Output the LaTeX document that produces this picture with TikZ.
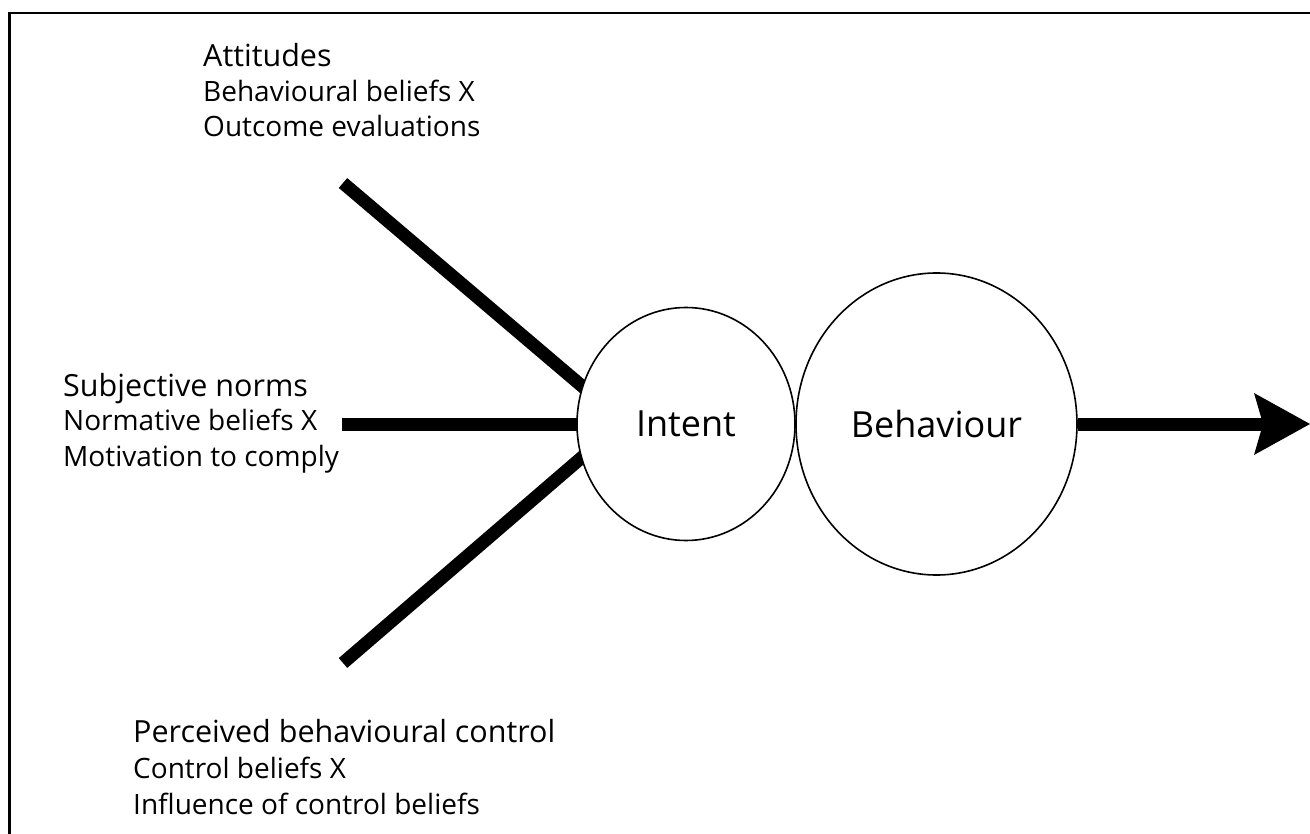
\documentclass[tikz,border=0pt]{standalone}
\usepackage{fontspec}
\setmainfont{Open Sans}
\usetikzlibrary{arrows.meta,shapes.geometric,backgrounds}
\begin{document}
\begin{tikzpicture}[x=1pt,y=-1pt,
  headtext/.style={anchor=base west, inner sep=0pt, font=\fontsize{30.5}{34}\selectfont},
  subtext/.style={anchor=base west, inner sep=0pt, font=\fontsize{28}{32}\selectfont},
  bubble/.style={ellipse, draw, line width=1.6pt, fill=white, inner sep=0pt, font=\fontsize{36}{40}\selectfont},
  bar/.style={line width=13pt, line cap=butt}]
\useasboundingbox (0,0) rectangle (1310,834);
\clip (0,0) rectangle (1310,834);
\draw[line width=2.5pt] (9.5,13) rectangle (1340,860);

% circles
\node[bubble, minimum width=218pt, minimum height=233pt] (intent) at (686,424) {Intent};
\node[bubble, minimum width=281pt, minimum height=302pt] (behaviour) at (936.5,424) {Behaviour};

% start points of the bars
\coordinate (a0) at (343,183);
\coordinate (n0) at (342,424);
\coordinate (p0) at (343,663);
\coordinate (tip) at (1310,424);

\begin{scope}[on background layer]
  \draw[bar, shorten >=-8pt] (a0) -- (intent.160);
  \draw[bar, shorten >=-6pt] (n0) -- (intent.west);
  \draw[bar, shorten >=-8pt] (p0) -- (intent.198);
\end{scope}
\draw[bar, -{Stealth[length=56pt, width=62pt, inset=9pt, line width=0pt]}] (behaviour.east) -- (tip);

% texts
\node[headtext] (att) at (203,67) {Attitudes};
\node[subtext] (att1) at (203,102) {Behavioural beliefs X};
\node[subtext] (att2) at (203,137) {Outcome evaluations};

\node[headtext] (sn) at (63,396) {Subjective norms};
\node[subtext] (sn1) at (63,431) {Normative beliefs X};
\node[subtext] (sn2) at (63,466) {Motivation to comply};

\node[headtext] (pbc) at (133,742) {Perceived behavioural control};
\node[subtext] (pbc1) at (133,778) {Control beliefs X};
\node[subtext] (pbc2) at (133,814) {Influence of control beliefs};
\end{tikzpicture}
\end{document}
